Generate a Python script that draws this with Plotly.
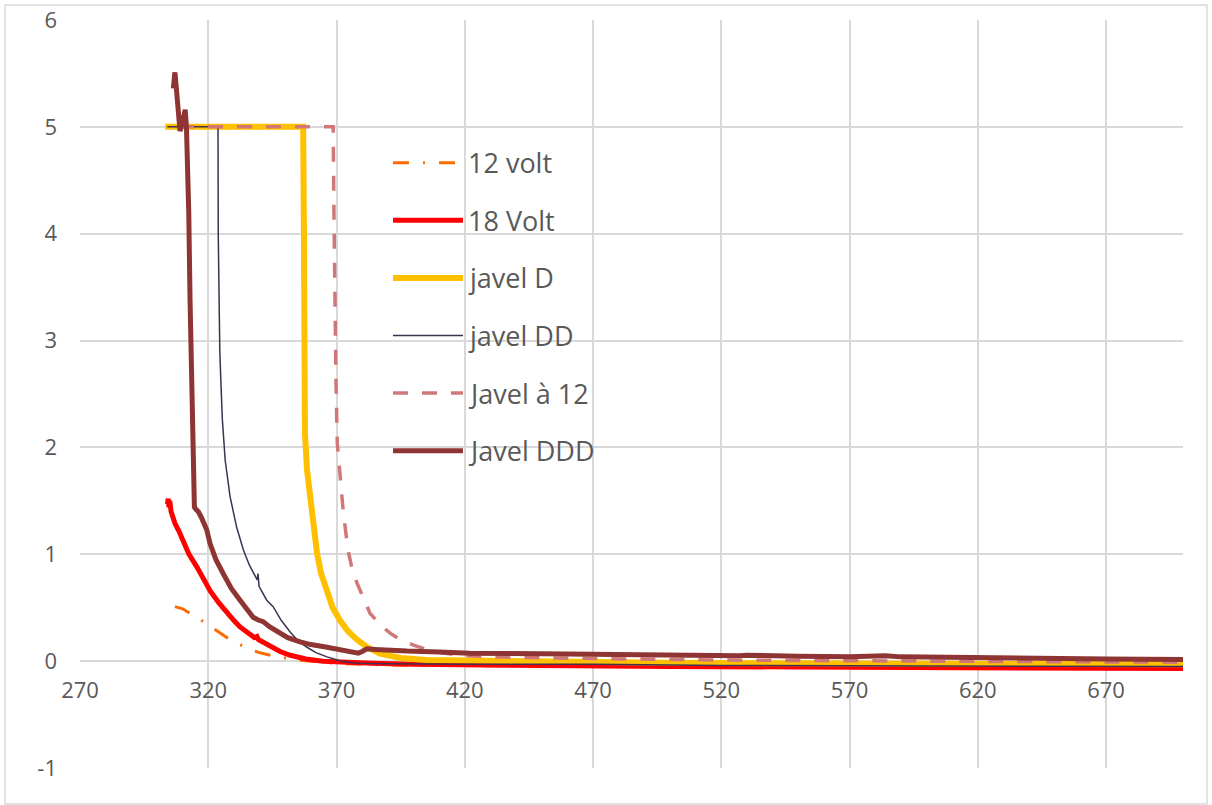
import plotly.graph_objects as go

# Absorbance readings (wavelength in nm) for each run
names = ["12 volt", "18 Volt", "javel D", "javel DD", "Javel à 12", "Javel DDD"]

x_12v = [307.0, 308.5, 310, 312, 315, 318, 321, 324.6, 328, 332.8, 336, 340, 345, 350,
         355, 360, 370, 380, 400, 450, 500, 550, 600, 650, 700]
y_12v = [0.51, 0.50, 0.49, 0.46, 0.42, 0.37, 0.32, 0.26, 0.21, 0.15, 0.11, 0.08, 0.05, 0.03,
         0.01, 0.0, -0.02, -0.03, -0.04, -0.045, -0.05, -0.05, -0.055, -0.06, -0.06]

x_18v = [304.1, 304.4, 304.7, 305.0, 305.5, 306, 307, 308.5, 310.2, 312.5, 315.6, 318, 320.7,
         324, 327.3, 330, 332.4, 336, 338, 339, 339.6, 342, 345.3, 348, 352, 358, 364.8, 372,
         384, 400, 450, 500, 550, 600, 650, 700]
y_18v = [1.47, 1.52, 1.44, 1.50, 1.40, 1.36, 1.29, 1.22, 1.13, 1.0, 0.88, 0.77, 0.66,
         0.55, 0.45, 0.38, 0.32, 0.26, 0.22, 0.23, 0.2, 0.17, 0.12, 0.09, 0.055, 0.02, 0.0, -0.01,
         -0.02, -0.03, -0.045, -0.05, -0.055, -0.06, -0.065, -0.07]

x_javD = [303.2, 330, 357.0, 357.3, 357.5, 357.7, 358.5, 359.7, 361, 362.4, 364, 366.3, 368.5,
          371.4, 374.5, 378, 382, 387, 395, 405, 420, 450, 500, 550, 600, 650, 700]
y_javD = [5, 5, 5, 4, 3, 2.13, 1.79, 1.51, 1.25, 1.01, 0.82, 0.64, 0.5,
          0.38, 0.28, 0.2, 0.13, 0.07, 0.03, 0.01, 0.005, -0.005, -0.015, -0.02, -0.025, -0.03, -0.03]

x_javDD = [304, 315, 323.8, 323.9, 324.1, 324.5, 324.9, 325.3, 325.5, 326.6, 328.5, 331.1, 333.7,
           336, 338.3, 339.1, 339.4, 339.8, 342.8, 345.3, 348.5, 352, 355, 358.5, 362, 366.3,
           372, 378, 390, 420, 470, 520, 600, 700]
y_javDD = [5, 5, 5, 4, 3.3, 2.9, 2.63, 2.38, 2.26, 1.88, 1.54, 1.25, 1.04,
           0.9, 0.79, 0.76, 0.82, 0.70, 0.57, 0.51, 0.38, 0.27, 0.19, 0.13, 0.08, 0.04,
           0.0, -0.02, -0.025, -0.03, -0.03, -0.04, -0.045, -0.05]

x_jav12 = [308.6, 340, 368.7, 369.0, 369.3, 369.8, 370.3, 371.4, 372.7, 374.5, 376, 378, 380.5,
           383, 387, 391, 395, 400, 405, 410.4, 420, 440, 470, 520, 600, 700]
y_jav12 = [5, 5, 5, 4.2, 3.4, 2.6, 2.04, 1.72, 1.38, 1.04, 0.87, 0.73, 0.58,
           0.45, 0.34, 0.26, 0.2, 0.15, 0.11, 0.08, 0.05, 0.035, 0.025, 0.01, 0.0, -0.01]

x_javDDD = [306.4, 307.0, 307.6, 308.3, 309.0, 310.0, 311.0, 311.5, 311.9, 312.4, 312.9, 313.5,
            314.1, 314.3, 314.6, 315.2, 316.1, 317.4, 319.4, 320.7, 323, 325.8, 329, 332.4, 335,
            337.5, 339.5, 341.4, 344, 348, 351, 355.8, 360, 366.3, 371, 376.5, 378.5, 380, 381.9,
            385, 390, 397.5, 410, 422, 450, 470, 500, 520, 527, 530, 535, 550, 570, 580, 584, 590,
            620, 650, 670, 700]
y_javDDD = [5.36, 5.51, 5.35, 5.1, 4.96, 5.05, 5.16, 5.0, 4.69, 4.2, 3.38, 2.8,
            2.26, 1.79, 1.44, 1.42, 1.4, 1.34, 1.23, 1.10, 0.95, 0.82, 0.68, 0.57, 0.48,
            0.41, 0.385, 0.37, 0.32, 0.26, 0.22, 0.18, 0.155, 0.13, 0.11, 0.08, 0.075, 0.09, 0.115,
            0.11, 0.1, 0.094, 0.085, 0.075, 0.07, 0.065, 0.055, 0.045, 0.05, 0.055, 0.05, 0.045, 0.04,
            0.045, 0.05, 0.04, 0.03, 0.025, 0.02, 0.015]

xs = [x_12v, x_18v, x_javD, x_javDD, x_jav12, x_javDDD]
ys = [y_12v, y_18v, y_javD, y_javDD, y_jav12, y_javDDD]

colors = ["#FF6A00", "#FF0000", "#FFC000", "#3F3151", "#D07878", "#8E3432"]
widths = [3, 5, 6, 1.5, 3.5, 5]
dashes = ["16px,14px,2px,14px", "solid", "solid", "solid", "15px,14px", "solid"]

x_ticks = [270, 320, 370, 420, 470, 520, 570, 620, 670]
y_ticks = [-1, 0, 1, 2, 3, 4, 5, 6]

TEXT = "#595959"
GRID = "#D9D9D9"
FONT = "Open Sans"

fig = go.Figure()
for name, x, y, c, w, d in zip(names, xs, ys, colors, widths, dashes):
    fig.add_trace(go.Scatter(x=x, y=y, mode="lines", name=name,
                             line=dict(color=c, width=w, dash=d, shape="linear"),
                             showlegend=False))

# Plot area in pixels (figure is 1212 x 805)
L, R, T, B = 80, 29, 20, 37
W, H = 1212, 805
pw, ph = W - L - R, H - T - B


def px_x(p):
    return (p - L) / pw


def px_y(p):
    return (H - B - p) / ph


# Hand-drawn legend with long line samples
shapes = []
annotations = []
leg_y0, leg_step = 162.7, 57.6
for i, (name, c, w, d) in enumerate(zip(names, colors, widths, dashes)):
    yy = px_y(leg_y0 + i * leg_step)
    shapes.append(dict(type="line", xref="paper", yref="paper",
                       x0=px_x(393), x1=px_x(463), y0=yy, y1=yy,
                       line=dict(color=c, width=w, dash=d)))
    annotations.append(dict(xref="paper", yref="paper", x=px_x(466), y=yy,
                            xanchor="left", yanchor="middle", showarrow=False,
                            text=name, font=dict(family=FONT, size=27, color=TEXT)))

# Chart border
shapes.append(dict(type="rect", xref="paper", yref="paper",
                   x0=px_x(5), x1=px_x(1207), y0=px_y(804), y1=px_y(5),
                   line=dict(color=GRID, width=1.5), layer="below"))

fig.update_layout(
    width=W, height=H,
    margin=dict(l=L, r=R, t=T, b=B, pad=0, autoexpand=False),
    paper_bgcolor="white", plot_bgcolor="white",
    shapes=shapes, annotations=annotations,
    showlegend=False,
    xaxis=dict(range=[270, 700], tickvals=x_ticks, ticktext=[str(v) for v in x_ticks],
               showgrid=True, gridcolor=GRID, gridwidth=1.5,
               zeroline=False, showline=False, ticks="", automargin=False,
               anchor="free", position=1 / 7, ticklabelstandoff=14,
               tickfont=dict(family=FONT, size=22, color=TEXT)),
    yaxis=dict(range=[-1, 6], tickvals=y_ticks, ticktext=[str(v) for v in y_ticks],
               showgrid=True, gridcolor=GRID, gridwidth=1.5,
               zeroline=False, showline=False, ticks="", automargin=False,
               ticklabelstandoff=22,
               tickfont=dict(family=FONT, size=22, color=TEXT)),
)

fig.write_html("out.html")
